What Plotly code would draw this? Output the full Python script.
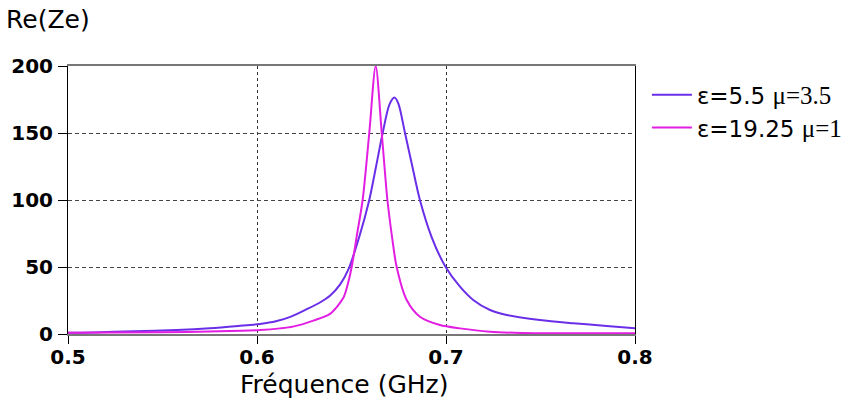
import plotly.graph_objects as go

# Frequency (GHz) and Re(Ze) values
freq_a = [0.500, 0.513, 0.535, 0.5575, 0.575, 0.590, 0.6016, 0.610, 0.618, 0.6263, 0.6333,
          0.6386, 0.644, 0.6483, 0.654, 0.6594, 0.6630, 0.6665, 0.6700, 0.6727, 0.6748,
          0.6783, 0.6822, 0.6862, 0.6925, 0.6998, 0.7074, 0.7144, 0.7233, 0.7321, 0.7497,
          0.7674, 0.785, 0.800]
rez_a = [1.0, 1.2, 2.0, 3.0, 4.3, 6.0, 7.5, 9.5, 13.0, 18.5, 23.5,
         28.5, 37.0, 48.0, 72.0, 100.0, 125.0, 150.0, 171.0, 176.4, 172.0,
         150.0, 125.0, 100.0, 72.0, 50.0, 35.3, 25.4, 17.9, 14.2, 10.4,
         8.0, 6.0, 4.2]

freq_b = [0.500, 0.550, 0.580, 0.6016, 0.6122, 0.619, 0.6298, 0.6386, 0.6457, 0.648, 0.6501,
          0.653, 0.6559, 0.6594, 0.6628, 0.6660, 0.6690, 0.6715, 0.6739, 0.6792, 0.6862,
          0.6968, 0.7074, 0.7233, 0.740, 0.800]
rez_b = [1.0, 1.3, 2.0, 3.0, 4.2, 5.5, 10.0, 15.0, 27.0, 37.0, 50.0,
         75.0, 100.0, 150.0, 200.0, 150.0, 100.0, 72.0, 50.0, 25.4, 12.9,
         6.7, 4.2, 1.7, 0.8, 0.5]

serif = "font-family:Liberation Serif;font-size:25px"
name_a = f"ε=5.5 <span style='{serif}'>μ=3.5</span>"
name_b = f"ε=19.25 <span style='{serif}'>μ=1</span>"
color_a = "#6a2ee8"
color_b = "#e21ee2"

x_ticks = [0.5, 0.6, 0.7, 0.8]
y_ticks = [0, 50, 100, 150, 200]

fig = go.Figure()
fig.add_trace(go.Scatter(x=freq_a, y=rez_a, mode="lines", name=name_a,
                         legendgroup="a",
                         line=dict(color=color_a, width=2, shape="spline", smoothing=0.8)))
fig.add_trace(go.Scatter(x=freq_b, y=rez_b, mode="lines", name=name_b,
                         legendgroup="b",
                         line=dict(color=color_b, width=2, shape="spline", smoothing=0.8)))

tickfont = dict(family="DejaVu Sans", size=20, color="black", weight="bold")

fig.update_xaxes(range=[0.5, 0.8], tickvals=x_ticks, ticktext=[str(v) for v in x_ticks],
                 showgrid=True, gridcolor="#333333", griddash="dot", gridwidth=1,
                 showline=True, linecolor="#777777", linewidth=2, mirror=True,
                 ticks="outside", ticklen=8, tickcolor="black", tickwidth=1,
                 ticklabelstandoff=-4,
                 tickfont=tickfont, zeroline=False)
fig.update_yaxes(range=[0, 200], tickvals=y_ticks,
                 showgrid=True, gridcolor="#444444", griddash="4px,3px", gridwidth=1,
                 showline=True, linecolor="black", linewidth=1, mirror=True,
                 ticks="outside", ticklen=9, tickcolor="black", tickwidth=1,
                 ticklabelstandoff=1,
                 tickfont=tickfont, zeroline=False)

fig.add_annotation(text="Re(Ze)", xref="paper", yref="paper", x=-0.111, y=1.172,
                   xanchor="left", yanchor="middle", showarrow=False, borderpad=0,
                   font=dict(family="DejaVu Sans", size=25, color="black"))
fig.add_annotation(text="Fréquence (GHz)", xref="paper", yref="paper", x=0.486, y=-0.19,
                   xanchor="center", yanchor="middle", showarrow=False,
                   font=dict(family="DejaVu Sans", size=25, color="black"))

fig.update_layout(
    width=848, height=407,
    margin=dict(l=68, r=213, t=66, b=73, autoexpand=False),
    paper_bgcolor="white", plot_bgcolor="white",
    legend=dict(x=1.021, y=0.973, xanchor="left", yanchor="top",
                font=dict(family="DejaVu Sans", size=23, color="black"),
                itemwidth=40,
                tracegroupgap=0, traceorder="grouped", bgcolor="rgba(0,0,0,0)"),
)

fig.write_html("out.html",
               config={"displayModeBar": False},
               post_script="document.body.style.margin='0';document.body.style.overflow='hidden';")
